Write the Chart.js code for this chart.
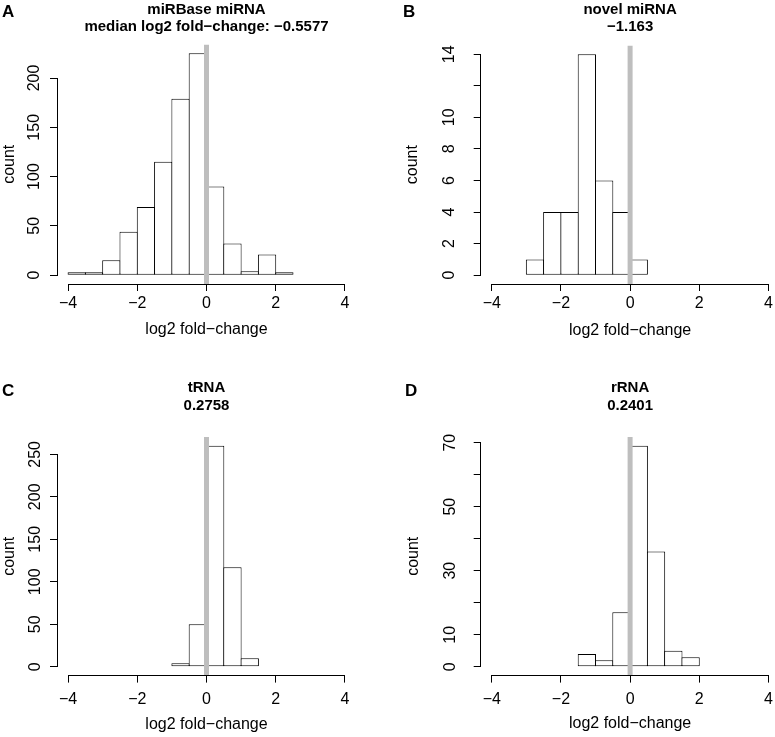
<!DOCTYPE html>
<html><head><meta charset="utf-8">
<script src="https://cdn.jsdelivr.net/npm/chart.js@4.4.1/dist/chart.umd.min.js"></script>
<style>
html,body{margin:0;padding:0;background:#fff;}
#wrap{position:relative;width:775px;height:737px;overflow:hidden;background:#fff;}
canvas{position:absolute;}
.lbl{position:absolute;font:bold 17px 'Liberation Sans',Arial,Helvetica,sans-serif;line-height:17px;color:#000;}
</style></head><body>
<div id="wrap">
<canvas id="cA" width="390" height="368" style="left:0px;top:0px"></canvas>
<canvas id="cB" width="395" height="368" style="left:395px;top:0px"></canvas>
<canvas id="cC" width="390" height="369" style="left:0px;top:368px"></canvas>
<canvas id="cD" width="395" height="369" style="left:395px;top:368px"></canvas>
<div class="lbl" style="left:2px;top:3px">A</div>
<div class="lbl" style="left:403px;top:3px">B</div>
<div class="lbl" style="left:2px;top:382px">C</div>
<div class="lbl" style="left:405px;top:382px">D</div>
</div>
<script>
// ---- data ----
const xTicks = [-4, -2, 0, 2, 4];
const refLine = 0;

const aBreaks = [-4, -3.5, -3, -2.5, -2, -1.5, -1, -0.5, 0, 0.5, 1, 1.5, 2, 2.5];
const aCounts = [3, 3, 15, 44, 69, 115, 179, 225, 90, 32, 4, 21, 3];
const aYTicks = [0, 50, 100, 150, 200];
const aYLabels = ['0', '50', '100', '150', '200'];
const aTitle = ['miRBase miRNA', 'median log2 fold\u2212change: \u22120.5577'];

const bBreaks = [-3, -2.5, -2, -1.5, -1, -0.5, 0, 0.5];
const bCounts = [1, 4, 4, 14, 6, 4, 1];
const bYTicks = [0, 2, 4, 6, 8, 10, 12, 14];
const bYLabels = ['0', '2', '4', '6', '8', '10', '', '14'];
const bTitle = ['novel miRNA', '\u22121.163'];

const cBreaks = [-1, -0.5, 0, 0.5, 1, 1.5];
const cCounts = [4, 50, 260, 117, 10];
const cYTicks = [0, 50, 100, 150, 200, 250];
const cYLabels = ['0', '50', '100', '150', '200', '250'];
const cTitle = ['tRNA', '0.2758'];

const dBreaks = [-1.5, -1, -0.5, 0, 0.5, 1, 1.5, 2];
const dCounts = [4, 2, 17, 69, 36, 5, 3];
const dYTicks = [0, 10, 20, 30, 40, 50, 60, 70];
const dYLabels = ['0', '10', '', '30', '', '50', '', '70'];
const dTitle = ['rRNA', '0.2401'];

const xAxisTitle = 'log2 fold\u2212change';
const yAxisTitle = 'count';

// ---- rendering ----
const FAMILY = "'Liberation Sans', Arial, Helvetica, sans-serif";
const LW = 1;
Chart.defaults.font.family = FAMILY;
Chart.defaults.color = '#000';

function fmt(v) { return v < 0 ? '\u2212' + Math.abs(v) : String(v); }
const mctx = document.createElement('canvas').getContext('2d');
function widest(labels) {
  mctx.font = '16px ' + FAMILY;
  return Math.max(...labels.map(l => mctx.measureText(l).width));
}

const rAxes = {
  id: 'rAxes',
  afterDraw(chart, args, o) {
    const {ctx, chartArea, scales: {x, y}} = chart;
    const h = LW / 2;
    const al = p => Math.round(p - h) + h;
    ctx.save();
    ctx.strokeStyle = '#000';
    ctx.lineWidth = LW;
    ctx.lineCap = 'butt';
    ctx.beginPath();
    const yb = al(chartArea.bottom);
    ctx.moveTo(al(x.getPixelForValue(o.xFrom)) - h, yb);
    ctx.lineTo(al(x.getPixelForValue(o.xTo)) + h, yb);
    const xl = al(chartArea.left);
    ctx.moveTo(xl, al(y.getPixelForValue(o.yFrom)) + h);
    ctx.lineTo(xl, al(y.getPixelForValue(o.yTo)) - h);
    ctx.stroke();
    ctx.restore();
  }
};

function panel(id, p) {
  const yTop = Math.max(...p.counts);
  const yMin = -0.04 * yTop, yMax = 1.04 * yTop;
  const xr = xTicks[xTicks.length - 1] - xTicks[0];
  const xMin = xTicks[0] - 0.04 * xr, xMax = xTicks[xTicks.length - 1] + 0.04 * xr;
  const pts = p.counts.map((c, i) => ({x: (p.breaks[i] + p.breaks[i + 1]) / 2, y: c}));
  const w = widest(p.yLabels);
  const gridOpts = {display: true, drawOnChartArea: false, drawTicks: true, tickLength: 7, color: '#000', lineWidth: LW, offset: false};
  return new Chart(document.getElementById(id), {
    type: 'bar',
    data: {
      datasets: [
        {type: 'bar', data: pts, backgroundColor: '#ffffff', borderColor: '#000000', borderWidth: LW,
         borderSkipped: false, barPercentage: 1 + LW / 17.29, categoryPercentage: 1, order: 2},
        {type: 'line', data: [{x: refLine, y: yMin}, {x: refLine, y: yMax}], borderColor: '#bebebe',
         borderWidth: 5, pointRadius: 0, clip: 0, order: 1, tension: 0}
      ]
    },
    options: {
      responsive: false, animation: false, devicePixelRatio: 1,
      layout: {padding: {left: 0, right: p.padRight, top: 0, bottom: 0}},
      plugins: {
        legend: {display: false},
        tooltip: {enabled: false},
        title: {display: true, text: p.title, fullSize: false, color: '#000',
                font: {size: 15, weight: 'bold', lineHeight: p.titleLH / 15},
                padding: {top: p.titleTop, bottom: p.titleBottom}},
        rAxes: {xFrom: xTicks[0], xTo: xTicks[xTicks.length - 1], yFrom: p.yTicks[0], yTo: p.yTicks[p.yTicks.length - 1]}
      },
      scales: {
        x: {
          type: 'linear', position: 'bottom', min: xMin, max: xMax, offset: false, bounds: 'data',
          afterBuildTicks: s => { s.ticks = xTicks.map(v => ({value: v})); },
          afterFit: s => { s.height = p.xH; },
          grid: gridOpts, border: {display: false},
          ticks: {font: {size: 16}, padding: p.xTickPad, autoSkip: false, minRotation: 0, maxRotation: 0,
                  callback: v => fmt(v)},
          title: {display: true, text: xAxisTitle, font: {size: 16}, padding: {top: 0, bottom: p.xTitlePad}}
        },
        y: {
          type: 'linear', position: 'left', min: yMin, max: yMax, bounds: 'data',
          afterBuildTicks: s => { s.ticks = p.yTicks.map(v => ({value: v})); },
          afterFit: s => { s.width = p.yW; },
          grid: gridOpts, border: {display: false},
          ticks: {font: {size: 16}, padding: p.yLabDist - 7 - w / 2, crossAlign: 'center',
                  minRotation: 90, maxRotation: 90, autoSkip: false,
                  callback: (v, i) => p.yLabels[i]},
          title: {display: true, text: yAxisTitle, font: {size: 16}, padding: {top: p.yTitlePad, bottom: 0}}
        }
      }
    },
    plugins: [rAxes]
  });
}

panel('cA', {breaks: aBreaks, counts: aCounts, yTicks: aYTicks, yLabels: aYLabels, title: aTitle,
  padRight: 34, yW: 57, yLabDist: 22.7, yTitlePad: 0.4,
  titleLH: 17, titleTop: 1.5, titleBottom: 9, xH: 84, xTickPad: 2.7, xTitlePad: 28.4});
panel('cB', {breaks: bBreaks, counts: bCounts, yTicks: bYTicks, yLabels: bYLabels, title: bTitle,
  padRight: 10.5, yW: 85.7, yLabDist: 31, yTitlePad: 7.9,
  titleLH: 17, titleTop: 1.5, titleBottom: 9.9, xH: 84, xTickPad: 2.7, xTitlePad: 27.7});
panel('cC', {breaks: cBreaks, counts: cCounts, yTicks: cYTicks, yLabels: cYLabels, title: cTitle,
  padRight: 34, yW: 57, yLabDist: 21.7, yTitlePad: 0,
  titleLH: 18, titleTop: 10.7, titleBottom: 22.3, xH: 61.4, xTickPad: 7.8, xTitlePad: 2.4});
panel('cD', {breaks: dBreaks, counts: dCounts, yTicks: dYTicks, yLabels: dYLabels, title: dTitle,
  padRight: 10.5, yW: 85.7, yLabDist: 30, yTitlePad: 9.4,
  titleLH: 18, titleTop: 10.7, titleBottom: 22.3, xH: 61.4, xTickPad: 7.8, xTitlePad: 3.4});
</script>
</body></html>
